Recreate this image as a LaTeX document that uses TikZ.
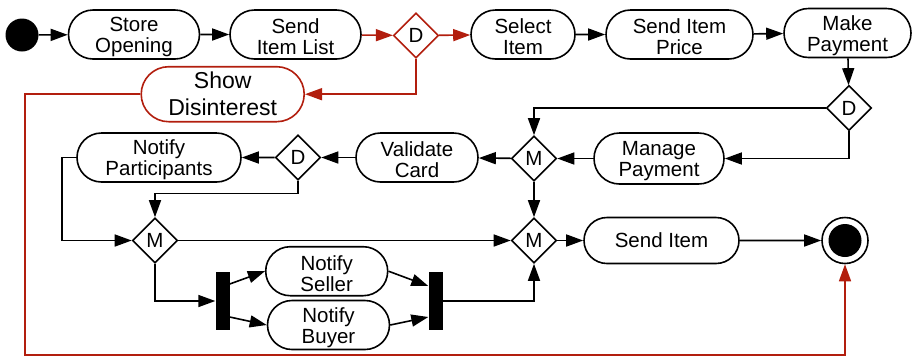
\documentclass[tikz,border=0pt]{standalone}
\usepackage{fontspec}
\setmainfont{Liberation Sans}
\usetikzlibrary{arrows.meta,shapes.misc,shapes.geometric,calc}
\definecolor{flowred}{RGB}{178,30,14}
% taller first line, so two-line labels sit a little lower in their boxes
\newcommand{\firstln}{\rule{0pt}{20pt}}
\begin{document}
\begin{tikzpicture}[x=1pt,y=-1pt,
  act/.style={rounded rectangle, draw, line width=1.6pt, inner sep=0pt, align=center,
    font=\fontsize{20.5}{21}\selectfont, minimum height=49pt},
  dec/.style={diamond, draw, line width=1.6pt, inner sep=0pt, minimum width=45pt,
    minimum height=45pt, font=\fontsize{20.5}{21}\selectfont},
  bar/.style={fill=black, inner sep=0pt, minimum width=14pt, minimum height=58pt},
  flow/.style={line width=1.6pt, -{Triangle[length=17pt,width=12pt]}},
  redflow/.style={flow, flowred},
]
\useasboundingbox (0,0) rectangle (916,360);

% top row
\node[circle, fill=black, minimum size=33pt, inner sep=0pt] (init) at (22,35) {};
\node[act, minimum width=131pt] (store) at (134,34.5) {\firstln Store\\Opening};
\node[act, minimum width=131pt] (list) at (295.5,34.5) {\firstln Send\\Item List};
\node[dec, draw=flowred] (d1) at (416,35.5) {D};
\node[act, minimum width=104pt] (select) at (523,34.5) {\firstln Select\\Item};
\node[act, minimum width=147pt] (price) at (679.5,34.5) {\firstln Send Item\\Price};
\node[act, minimum width=127pt] (pay) at (847.5,33) {\firstln Make\\Payment};
\node[act, draw=flowred, minimum width=163pt, minimum height=55pt,
  font=\fontsize{23}{27}\selectfont] (dis) at (222.7,94.2) {Show\\Disinterest};

% payment row
\node[dec] (d2) at (849,108) {D};
\node[dec] (m1) at (534,158.5) {M};
\node[act, minimum width=130pt, minimum height=51pt] (manage) at (659,158.5) {\firstln Manage\\Payment};
\node[act, minimum width=122pt] (valid) at (417,157.5) {\firstln Validate\\Card};
\node[dec] (d3) at (298,157.5) {D};
\node[act, minimum width=164pt] (notp) at (159,157.5) {\firstln Notify\\Participants};

% merge row and end
\node[dec] (m2) at (155,240.5) {M};
\node[dec] (m3) at (534,240.5) {M};
\node[act, minimum width=155pt, minimum height=46pt] (send) at (661.5,240.5) {Send Item};
\node[circle, draw, line width=1.6pt, minimum size=46pt, inner sep=0pt] (final) at (845,240.5) {};
\node[circle, fill=black, minimum size=33pt, inner sep=0pt] (finaldot) at (final) {};

% fork / join
\node[bar] (fork) at (222.5,301) {};
\node[bar] (join) at (435.5,301) {};
\node[act, minimum width=122pt] (seller) at (326.7,271.2) {\firstln Notify\\Seller};
\node[act, minimum width=122pt] (buyer) at (328.5,325) {\firstln Notify\\Buyer};

\coordinate (loopc) at (25,355);

% connectors
\draw[flow] (init) -- (store);
\draw[flow] (store) -- (list);
\draw[redflow] (list) -- (d1);
\draw[redflow] (d1) -- (select);
\draw[flow] (select) -- (price);
\draw[flow] (price) -- (pay);
\draw[redflow] (d1.south) |- (dis.east);
\draw[redflow] (dis.west) -| (loopc) -| (final.south);

\draw[flow] (pay) -- (d2);
\draw[flow] (d2.west) -| (m1.north);
\draw[flow] (d2.south) |- (manage.east);
\draw[flow] (manage) -- (m1);
\draw[flow] (m1) -- (valid);
\draw[flow] (valid) -- (d3);
\draw[flow] (d3) -- (notp);
\draw[flow] (d3.south) -- ++(0,12.5) -| (m2.north);
\draw[flow] (notp.west) -- ++(-14,0) |- (m2.west);
\draw[flow] (m2) -- (m3);
\draw[flow] (m1) -- (m3);
\draw[flow] (m3) -- (send);
\draw[flow] (send) -- (final);

\draw[flow] (m2.south) |- (fork.west);
\draw[flow] ([yshift=17pt]fork.east) -- (seller.west);
\draw[flow] ([yshift=-16pt]fork.east) -- (buyer.west);
\draw[flow] (seller.east) -- ([yshift=15pt]join.west);
\draw[flow] (buyer.east) -- ([yshift=-16pt]join.west);
\draw[flow] (join.east) -| (m3.south);
\end{tikzpicture}
\end{document}
